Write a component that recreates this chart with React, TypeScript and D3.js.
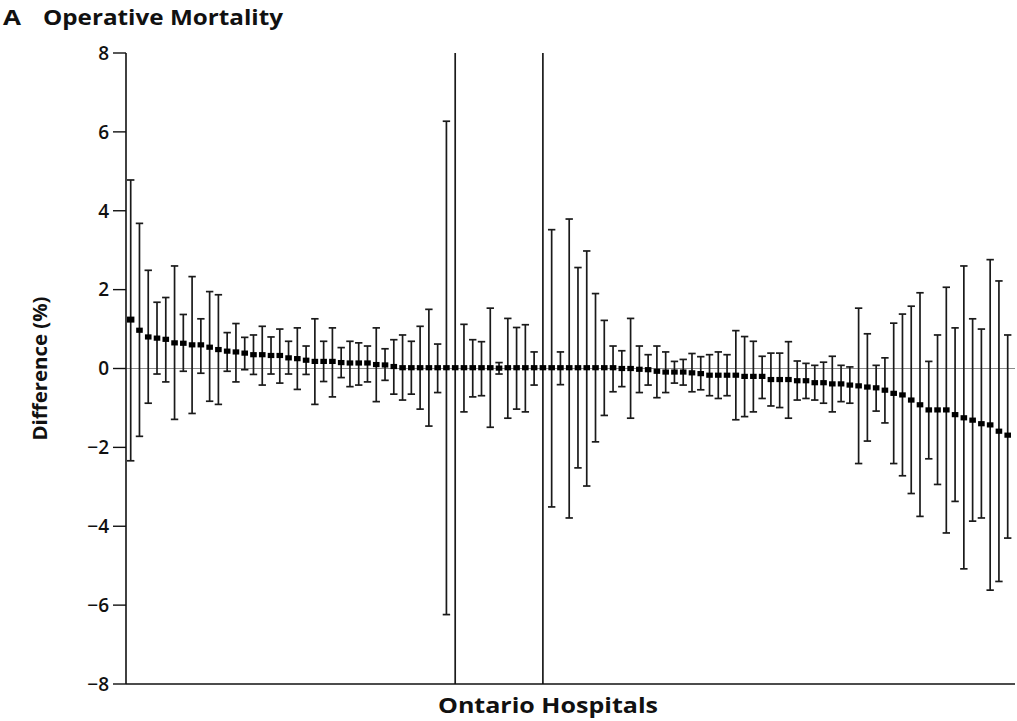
import React from "react";
import * as d3 from "d3";

// Difference (%) per hospital (sorted), with 95% CI bounds
const estimates: number[] = [
  1.24, 0.97, 0.8, 0.77, 0.74, 0.65, 0.64, 0.6, 0.6, 0.54,
  0.48, 0.44, 0.42, 0.39, 0.35, 0.35, 0.33, 0.33, 0.27, 0.25,
  0.21, 0.18, 0.18, 0.18, 0.15, 0.14, 0.14, 0.14, 0.1, 0.09,
  0.05, 0.02, 0.02, 0.02, 0.02, 0.02, 0.02, 0.02, 0.02, 0.02,
  0.02, 0.02, 0.01, 0.02, 0.02, 0.02, 0.02, 0.02, 0.02, 0.02,
  0.02, 0.02, 0.02, 0.02, 0.02, 0.02, 0.0, 0.0, -0.02, -0.03,
  -0.07, -0.09, -0.09, -0.09, -0.11, -0.13, -0.17, -0.17, -0.17, -0.17,
  -0.2, -0.2, -0.2, -0.28, -0.28, -0.28, -0.31, -0.31, -0.36, -0.36,
  -0.39, -0.39, -0.42, -0.44, -0.47, -0.49, -0.55, -0.63, -0.67, -0.8,
  -0.92, -1.05, -1.05, -1.05, -1.17, -1.25, -1.31, -1.4, -1.43, -1.59,
  -1.69,
];

const lowerCI: number[] = [
  -2.34, -1.72, -0.88, -0.14, -0.34, -1.29, -0.07, -1.14, -0.12, -0.83,
  -0.91, -0.07, -0.34, -0.03, -0.15, -0.42, -0.14, -0.37, -0.14, -0.53,
  -0.15, -0.91, -0.33, -0.72, -0.23, -0.46, -0.42, -0.34, -0.84, -0.3,
  -0.65, -0.8, -0.65, -1.03, -1.46, -0.61, -6.24, -12, -1.1, -0.72,
  -0.69, -1.49, -0.14, -1.26, -1.03, -1.1, -0.42, -12, -3.51, -0.41,
  -3.79, -2.52, -2.98, -1.86, -1.19, -0.59, -0.46, -1.26, -0.61, -0.42,
  -0.74, -0.61, -0.37, -0.42, -0.59, -0.54, -0.69, -0.76, -0.69, -1.3,
  -1.22, -1.1, -0.76, -0.95, -0.99, -1.26, -0.8, -0.76, -0.8, -0.88,
  -1.1, -0.84, -0.88, -2.41, -1.84, -1.08, -1.38, -2.41, -2.72, -3.17,
  -3.75, -2.29, -2.94, -4.17, -3.37, -5.08, -3.87, -3.79, -5.62, -5.4,
  -4.3,
];

const upperCI: number[] = [
  4.78, 3.68, 2.49, 1.68, 1.8, 2.6, 1.37, 2.33, 1.26, 1.95,
  1.87, 0.91, 1.14, 0.79, 0.85, 1.07, 0.8, 1.0, 0.69, 1.03,
  0.57, 1.26, 0.69, 1.03, 0.53, 0.69, 0.65, 0.57, 1.03, 0.5,
  0.73, 0.85, 0.69, 1.07, 1.5, 0.62, 6.27, 12, 1.12, 0.73,
  0.68, 1.53, 0.15, 1.27, 1.04, 1.11, 0.42, 12, 3.52, 0.42,
  3.79, 2.56, 2.98, 1.9, 1.22, 0.57, 0.45, 1.27, 0.57, 0.35,
  0.57, 0.42, 0.18, 0.23, 0.38, 0.3, 0.35, 0.42, 0.35, 0.96,
  0.81, 0.69, 0.31, 0.39, 0.39, 0.68, 0.19, 0.13, 0.08, 0.16,
  0.31, 0.08, 0.04, 1.53, 0.88, 0.08, 0.27, 1.15, 1.38, 1.58,
  1.92, 0.18, 0.85, 2.06, 1.03, 2.6, 1.26, 1.0, 2.76, 2.22,
  0.85,
];

const yTicks: number[] = [-8, -6, -4, -2, 0, 2, 4, 6, 8];

const W = 1017;
const H = 721;
const left = 126;
const right = 1015;
const top = 53;
const bottom = 684;

export default function App() {
  const n = estimates.length;
  const x = d3.scaleLinear().domain([0, n - 1]).range([130.7, 1007.7]);
  const y = d3.scaleLinear().domain([-8, 8]).range([bottom, top]);
  const fmt = (v: number) => (v < 0 ? "\u2212" + Math.abs(v) : String(v));
  const capHalf = 3.7;
  const inRange = (v: number) => v >= -8 && v <= 8;

  return (
    <svg
      width={W}
      height={H}
      style={{ position: "absolute", left: 0, top: 0, background: "#fff" }}
      fontFamily="'Open Sans', 'DejaVu Sans', sans-serif"
    >
      <defs>
        <clipPath id="plotClip">
          <rect x={left} y={top} width={right - left} height={bottom - top} />
        </clipPath>
      </defs>
      <rect x={0} y={0} width={W} height={H} fill="#fff" />

      {/* Title */}
      <text x={3} y={25} fontSize={22} fontWeight={700} fill="#111" textLength={18} lengthAdjust="spacingAndGlyphs">
        A
      </text>
      <text x={43} y={25} fontSize={21} fontWeight={700} fill="#111" textLength={240} lengthAdjust="spacingAndGlyphs">
        Operative Mortality
      </text>

      {/* zero reference line */}
      <line x1={left} x2={right} y1={y(0)} y2={y(0)} stroke="#8a8a8a" strokeWidth={1} />

      {/* error bars */}
      <g clipPath="url(#plotClip)" stroke="#1a1a1a" strokeWidth={1.7}>
        {estimates.map((_, i) => {
          const cx = x(i);
          const lo = lowerCI[i];
          const hi = upperCI[i];
          return (
            <g key={i}>
              <line x1={cx} x2={cx} y1={y(Math.max(lo, -9))} y2={y(Math.min(hi, 9))} />
              {inRange(hi) && (
                <line x1={cx - capHalf} x2={cx + capHalf} y1={y(hi)} y2={y(hi)} />
              )}
              {inRange(lo) && (
                <line x1={cx - capHalf} x2={cx + capHalf} y1={y(lo)} y2={y(lo)} />
              )}
            </g>
          );
        })}
      </g>

      {/* point estimates */}
      <g fill="#000">
        {estimates.map((v, i) => (
          <rect
            key={i}
            x={x(i) - (i === 0 ? 3.7 : 3.3)}
            y={y(v) - (i === 0 ? 3 : 2.6)}
            width={i === 0 ? 7.4 : 6.6}
            height={i === 0 ? 6 : 5.2}
          />
        ))}
      </g>

      {/* axes */}
      <line x1={left} x2={left} y1={top} y2={bottom} stroke="#111" strokeWidth={1.6} />
      <line x1={left} x2={right} y1={bottom} y2={bottom} stroke="#111" strokeWidth={1.6} />
      {yTicks.map((t) => (
        <g key={t}>
          <line x1={left - 13} x2={left} y1={y(t)} y2={y(t)} stroke="#111" strokeWidth={1.4} />
          <text
            x={left - 17}
            y={y(t)}
            dy="0.36em"
            textAnchor="end"
            fontSize={19}
            fontWeight={600}
            fill="#111"
          >
            {fmt(t)}
          </text>
        </g>
      ))}

      {/* axis labels */}
      <text
        transform={`translate(47, ${y(0)}) rotate(-90)`}
        textAnchor="middle"
        fontSize={20}
        fontWeight={700}
        fill="#111"
        textLength={144}
        lengthAdjust="spacingAndGlyphs"
      >
        Difference (%)
      </text>
      <text
        x={548}
        y={713}
        textAnchor="middle"
        fontSize={22}
        fontWeight={700}
        fill="#111"
        textLength={220}
        lengthAdjust="spacingAndGlyphs"
      >
        Ontario Hospitals
      </text>
    </svg>
  );
}
